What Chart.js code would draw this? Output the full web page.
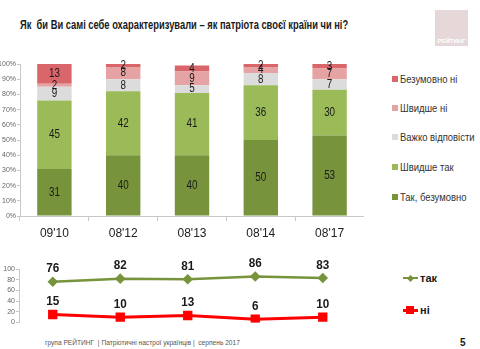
<!DOCTYPE html>
<html>
<head>
<meta charset="utf-8">
<script src="https://cdn.jsdelivr.net/npm/chart.js@4.4.0/dist/chart.umd.min.js"></script>
<style>
body{margin:0;width:480px;height:349px;background:#fff;position:relative;overflow:hidden;
  font-family:"Liberation Sans",Arial,sans-serif;color:#1a1a1a}
.narrow{transform-origin:0 50%;display:inline-block}
#title{position:absolute;left:20px;top:17px;font-size:13px;font-weight:bold;white-space:nowrap}
#logo{position:absolute;left:435px;top:10px;width:33px;height:36px;background:#e6d8d8}
#logo span{position:absolute;left:0;right:0;bottom:2px;text-align:center;color:#fff;font-size:6px;font-weight:bold}
#barChart{position:absolute;left:0;top:55px}
#lineChart{position:absolute;left:0;top:245px}
.leg{position:absolute;font-size:11px;color:#333;white-space:nowrap}
.leg i{position:absolute;left:-8px;top:50%;width:6px;height:6px;margin-top:-3px}
.lleg{position:absolute;font-size:11px;font-weight:bold;white-space:nowrap}
.lleg b{position:absolute;top:50%;left:-17px;width:15px}
.lleg em{position:absolute;top:50%;left:-10px}
#footer{position:absolute;left:45px;top:338px;font-size:8px;color:#555;white-space:nowrap}
#page{position:absolute;left:460px;top:337px;font-size:10px;font-weight:bold}
</style>
</head>
<body>
<div id="title" class="narrow" data-w="328">Як&nbsp; би Ви самі себе охарактеризували – як патріота своєї країни чи ні?</div>
<div id="logo"><span>РЕЙТИНГ</span></div>
<canvas id="barChart" width="364" height="190"></canvas>
<canvas id="lineChart" width="364" height="85"></canvas>
<div id="barLegend"></div>
<div id="lineLegend"></div>
<div id="footer" class="narrow" data-w="195">група РЕЙТИНГ&nbsp; | Патріотичні настрої українців |&nbsp; серпень 2017</div>
<div id="page">5</div>
<script>
var FONT = '"Liberation Sans",Arial,sans-serif';

var waves = ["09'10", "08'12", "08'13", "08'14", "08'17"];

// stacked answers, bottom to top
var answerNames = ["Так, безумовно", "Швидше так", "Важко відповісти", "Швидше ні", "Безумовно ні"];
var answerColors = ["#77933c", "#9bbb59", "#dcdcdc", "#e6a3a3", "#d9666a"];
var definitelyYes = [31, 40, 40, 50, 53];
var ratherYes     = [45, 42, 41, 36, 30];
var hardToSay     = [9, 8, 5, 8, 7];
var ratherNo      = [2, 8, 9, 4, 7];
var definitelyNo  = [13, 2, 4, 2, 3];

// totals yes / no
var yesTotal = [76, 82, 81, 86, 83];
var noTotal  = [15, 10, 13, 6, 10];

var percentTicks = [0, 10, 20, 30, 40, 50, 60, 70, 80, 90, 100];
var totalTicks = [0, 20, 40, 60, 80, 100];

// squeeze text horizontally, the deck uses a condensed face
function narrowText(ctx, txt, x, y, sx) {
    ctx.save();
    ctx.translate(x, y);
    ctx.scale(sx, 1);
    ctx.fillText(txt, 0, 0);
    ctx.restore();
}

var segmentLabels = {
    id: 'segmentLabels',
    afterDatasetsDraw: function (chart) {
        var ctx = chart.ctx;
        ctx.save();
        ctx.font = '12px ' + FONT;
        ctx.fillStyle = '#1a1a1a';
        ctx.textAlign = 'center';
        ctx.textBaseline = 'middle';
        chart.data.datasets.forEach(function (ds, i) {
            chart.getDatasetMeta(i).data.forEach(function (bar, j) {
                narrowText(ctx, ds.data[j], bar.x, (bar.y + bar.base) / 2, 0.82);
            });
        });
        ctx.restore();
    }
};

var pointLabels = {
    id: 'pointLabels',
    afterDatasetsDraw: function (chart) {
        var ctx = chart.ctx;
        ctx.save();
        ctx.font = 'bold 13px ' + FONT;
        ctx.fillStyle = '#1a1a1a';
        ctx.textAlign = 'center';
        ctx.textBaseline = 'middle';
        chart.data.datasets.forEach(function (ds, i) {
            chart.getDatasetMeta(i).data.forEach(function (pt, j) {
                narrowText(ctx, ds.data[j], pt.x, pt.y - 13, 0.9);
            });
        });
        ctx.restore();
    }
};

var barSeries = [definitelyYes, ratherYes, hardToSay, ratherNo, definitelyNo];
var barChart = new Chart(document.getElementById('barChart'), {
    type: 'bar',
    data: {
        labels: waves,
        datasets: barSeries.map(function (d, i) {
            return {label: answerNames[i], data: d, backgroundColor: answerColors[i],
                    barPercentage: 0.5, categoryPercentage: 1};
        })
    },
    options: {
        responsive: false,
        animation: false,
        layout: {padding: {top: 9, right: 0, bottom: 0, left: 0}},
        plugins: {legend: {display: false}, tooltip: {enabled: false}},
        scales: {
            x: {
                stacked: true,
                afterFit: function (s) { s.height = 29; },
                border: {color: '#c8c8c8'},
                grid: {drawOnChartArea: false, tickLength: 5, color: '#c8c8c8', offset: true},
                ticks: {font: {size: 12, family: FONT}, color: '#222', padding: 5}
            },
            y: {
                stacked: true,
                min: 0, max: 100,
                afterFit: function (s) { s.width = 20; },
                afterBuildTicks: function (s) { s.ticks = percentTicks.map(function (v) { return {value: v}; }); },
                border: {color: '#c8c8c8'},
                grid: {drawOnChartArea: false, tickLength: 3, color: '#c8c8c8'},
                ticks: {autoSkip: false, font: {size: 7, family: FONT}, color: '#666', padding: 1,
                        callback: function (v) { return v + '%'; }}
            }
        }
    },
    plugins: [segmentLabels]
});

var lineChart = new Chart(document.getElementById('lineChart'), {
    type: 'line',
    data: {
        labels: waves,
        datasets: [
            {label: 'так', data: yesTotal, borderColor: '#77933c', backgroundColor: '#77933c',
             borderWidth: 2.5, pointStyle: 'rectRot', pointRadius: 3.5},
            {label: 'ні', data: noTotal, borderColor: '#ff0000', backgroundColor: '#ff0000',
             borderWidth: 3, pointStyle: 'rect', pointRadius: 4.5}
        ]
    },
    options: {
        responsive: false,
        animation: false,
        layout: {padding: {top: 24, right: 0, bottom: 6, left: 0}},
        plugins: {legend: {display: false}, tooltip: {enabled: false}},
        scales: {
            x: {offset: true, display: false},
            y: {
                min: 0, max: 100,
                afterFit: function (s) { s.width = 19; },
                afterBuildTicks: function (s) { s.ticks = totalTicks.map(function (v) { return {value: v}; }); },
                border: {color: '#c8c8c8'},
                grid: {drawOnChartArea: false, tickLength: 3, color: '#c8c8c8'},
                ticks: {autoSkip: false, font: {size: 7, family: FONT}, color: '#666', padding: 1}
            }
        }
    },
    plugins: [pointLabels]
});

// legends on the right side
var barLegend = document.getElementById('barLegend');
var legendTop = [80, 109, 138, 168, 198];
for (var i = answerNames.length - 1, k = 0; i >= 0; i--, k++) {
    var el = document.createElement('div');
    el.className = 'leg';
    el.style.left = '400px';
    el.style.top = (legendTop[k] - 7) + 'px';
    el.innerHTML = '<i style="background:' + answerColors[i] + '"></i><span class="narrow" style="transform:scaleX(0.86)">' + answerNames[i] + '</span>';
    barLegend.appendChild(el);
}

var lineLegend = document.getElementById('lineLegend');
var lineTop = [279, 311];
lineChart.data.datasets.forEach(function (ds, i) {
    var el = document.createElement('div');
    el.className = 'lleg';
    el.style.left = '420px';
    el.style.top = (lineTop[i] - 7) + 'px';
    var lw = i === 0 ? 2 : 3;
    var m = i === 0
        ? '<em style="width:5px;height:5px;margin-top:-2.5px;margin-left:-2.5px;background:' + ds.borderColor + ';transform:rotate(45deg)"></em>'
        : '<em style="width:8px;height:8px;margin-top:-4px;margin-left:-4px;background:' + ds.borderColor + '"></em>';
    el.innerHTML = '<b style="height:' + lw + 'px;margin-top:-' + (lw / 2) + 'px;background:' + ds.borderColor + '"></b>' + m + ds.label;
    lineLegend.appendChild(el);
});

// fit the title and the footer to their widths
document.querySelectorAll('#title, #footer').forEach(function (el) {
    var w = el.getBoundingClientRect().width;
    el.style.transform = 'scaleX(' + (el.getAttribute('data-w') / w).toFixed(3) + ')';
});
</script>
</body>
</html>
